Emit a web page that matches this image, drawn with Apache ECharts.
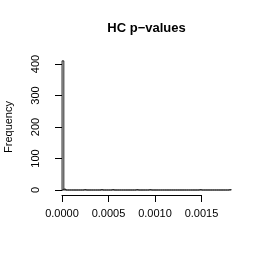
<!DOCTYPE html>
<html><head><meta charset="utf-8">
<script src="https://cdn.jsdelivr.net/npm/echarts@6/dist/echarts.min.js"></script>
<style>html,body{margin:0;padding:0;background:#fff}#c{width:266px;height:264px}</style>
</head><body><div id="c"></div>
<script>
// Histogram of HC p-values: bins of width 0.00002 starting at 0
const binStart = 0;
const binWidth = 0.00002;
const counts = [
  410, 3, 0, 0, 0, 0, 0, 0, 0, 0,
  0, 0, 1, 0, 0, 0, 0, 0, 0, 0,
  0, 1, 0, 0, 0, 0, 0, 1, 0, 0,
  0, 0, 0, 0, 0, 0, 0, 0, 0, 0,
  1, 0, 0, 0, 0, 0, 0, 1, 0, 0,
  0, 0, 0, 0, 0, 0, 0, 0, 0, 0,
  0, 0, 0, 0, 0, 0, 0, 0, 0, 0,
  0, 0, 0, 0, 1, 0, 0, 0, 0, 0,
  0, 0, 0, 0, 0, 0, 0, 0, 0, 0,
  1
];
const xTicks = [0, 0.0005, 0.0010, 0.0015];
const yTicks = [0, 100, 200, 300, 400];
const titleText = 'HC p\u2212values';
const yName = 'Frequency';

const data = counts.map((c, i) => [binStart + i * binWidth, binStart + (i + 1) * binWidth, c]);
const font = '"Liberation Sans", Arial, Helvetica, sans-serif';
const chart = echarts.init(document.getElementById('c'), null, {renderer: 'canvas'});
chart.setOption({
  animation: false,
  backgroundColor: '#fff',
  graphic: [{
    type: 'text', x: 146.5, y: 28,
    style: {text: titleText, x: 0, y: 0, align: 'center', verticalAlign: 'middle',
      font: 'bold 13px "Liberation Sans", Arial, sans-serif', fill: '#000'}
  }],
  grid: {left: 62, top: 64, width: 139.5, height: 126, containLabel: false, outerBoundsMode: 'none'},
  xAxis: {
    type: 'value', min: xTicks[0], max: xTicks[xTicks.length - 1], interval: 0.0005,
    offset: 5,
    axisLine: {show: true, onZero: false, lineStyle: {color: '#000', width: 1}},
    axisTick: {show: true, length: 7, lineStyle: {color: '#000', width: 1}},
    axisLabel: {show: true, margin: 13, fontFamily: font, fontSize: 11, color: '#000',
      formatter: v => v.toFixed(4), showMinLabel: true, showMaxLabel: true},
    splitLine: {show: false}
  },
  yAxis: {
    type: 'value', min: yTicks[0], max: yTicks[yTicks.length - 1], interval: 100,
    offset: 7,
    name: yName, nameLocation: 'middle', nameRotate: 90, nameGap: 41,
    nameTextStyle: {fontFamily: font, fontSize: 11, color: '#000'},
    axisLine: {show: true, lineStyle: {color: '#000', width: 1}},
    axisTick: {show: true, length: 7, lineStyle: {color: '#000', width: 1}},
    axisLabel: {show: true, rotate: 90, margin: 14, fontFamily: font, fontSize: 11, color: '#000'},
    splitLine: {show: false}
  },
  series: [{
    type: 'custom',
    clip: false,
    data: data,
    encode: {x: [0, 1], y: 2},
    renderItem: function (params, api) {
      const p0 = api.coord([api.value(0), 0]);
      const p1 = api.coord([api.value(1), api.value(2)]);
      return {
        type: 'rect',
        shape: {x: p0[0], y: p1[1], width: p1[0] - p0[0], height: p0[1] - p1[1]},
        style: {fill: '#d3d3d3', stroke: '#000', lineWidth: 0.8}
      };
    }
  }]
});
</script></body></html>
